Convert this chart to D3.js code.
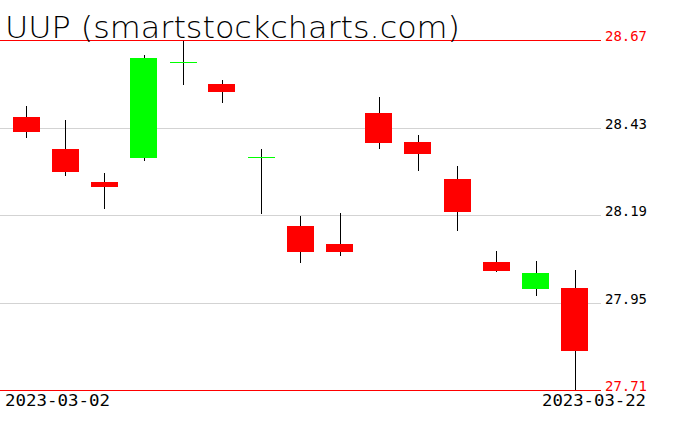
<!DOCTYPE html>
<html><head><meta charset="utf-8">
<script src="https://cdn.jsdelivr.net/npm/d3@7"></script>
<style>html,body{margin:0;padding:0;background:#fff;overflow:hidden}</style>
</head><body>
<script>
const dates = ["2023-03-02","2023-03-03","2023-03-06","2023-03-07","2023-03-08","2023-03-09","2023-03-10","2023-03-13","2023-03-14","2023-03-15","2023-03-16","2023-03-17","2023-03-20","2023-03-21","2023-03-22"];
const opens  = [28.459,28.371,28.280,28.347,28.609,28.549,28.349,28.160,28.110,28.470,28.390,28.289,28.061,27.988,27.990];
const highs  = [28.489,28.451,28.305,28.629,28.667,28.560,28.371,28.187,28.195,28.514,28.409,28.324,28.091,28.064,28.039];
const lows   = [28.400,28.298,28.206,28.339,28.547,28.498,28.194,28.059,28.078,28.372,28.311,28.147,28.035,27.969,27.710];
const closes = [28.418,28.308,28.267,28.621,28.609,28.528,28.349,28.089,28.089,28.388,28.358,28.199,28.037,28.031,27.818];
const gridTicks = [28.43,28.19,27.95];
const limitTicks = [28.67,27.71];
const title = "UUP (smartstockcharts.com)";

const W = 676, H = 431;
const svg = d3.select("body").append("svg").attr("width", W).attr("height", H);

const y = d3.scaleLinear().domain([27.71, 28.67]).range([390, 40]);
const x = d3.scalePoint().domain(dates).range([26, 574.8]);
const bodyW = 27;

// grid lines
svg.selectAll("line.grid").data(gridTicks).enter().append("line")
  .attr("x1", 0).attr("x2", 601)
  .attr("y1", d => Math.round(y(d)) + 0.5).attr("y2", d => Math.round(y(d)) + 0.5)
  .attr("stroke", "#d3d3d3").attr("stroke-width", 1);
svg.selectAll("line.lim").data(limitTicks).enter().append("line")
  .attr("x1", 0).attr("x2", 601)
  .attr("y1", d => Math.round(y(d)) + 0.5).attr("y2", d => Math.round(y(d)) + 0.5)
  .attr("stroke", "#ff0000").attr("stroke-width", 1);

// tick labels
const lblFont = "'DejaVu Sans Mono', monospace";
svg.selectAll("text.gl").data(gridTicks).enter().append("text")
  .attr("x", 605).attr("y", d => Math.round(y(d)) + 1)
  .attr("font-family", lblFont).attr("font-size", 14.5)
  .attr("textLength", 42).attr("lengthAdjust", "spacingAndGlyphs")
  .attr("fill", "#000").text(d => d.toFixed(2));
svg.selectAll("text.ll").data(limitTicks).enter().append("text")
  .attr("x", 605).attr("y", d => Math.round(y(d)) + 1)
  .attr("font-family", lblFont).attr("font-size", 14.5)
  .attr("textLength", 42).attr("lengthAdjust", "spacingAndGlyphs")
  .attr("fill", "#ff0000").text(d => d.toFixed(2));

// candles
const data = dates.map((d, i) => ({d, o: opens[i], h: highs[i], l: lows[i], c: closes[i]}));
const g = svg.append("g");
data.forEach(k => {
  const cx = Math.round(x(k.d)) + 0.5;
  g.append("line").attr("x1", cx).attr("x2", cx)
    .attr("y1", Math.round(y(k.h))).attr("y2", Math.round(y(k.l)))
    .attr("stroke", "#000").attr("stroke-width", 1);
  const up = k.c >= k.o;
  const col = up ? "#00ff00" : "#ff0000";
  const top = Math.round(y(Math.max(k.o, k.c)));
  const bot = Math.round(y(Math.min(k.o, k.c)));
  if (bot - top < 1) {
    g.append("line").attr("x1", cx - bodyW / 2).attr("x2", cx + bodyW / 2)
      .attr("y1", top + 0.5).attr("y2", top + 0.5)
      .attr("stroke", col).attr("stroke-width", 1);
  } else {
    g.append("rect").attr("x", Math.round(x(k.d) - bodyW / 2)).attr("y", top)
      .attr("width", bodyW).attr("height", bot - top).attr("fill", col);
  }
});

// date labels
svg.append("text").attr("x", 5).attr("y", 406)
  .attr("font-family", lblFont).attr("font-size", 16)
  .attr("textLength", 105).attr("lengthAdjust", "spacingAndGlyphs")
  .text(dates[0]);
svg.append("text").attr("x", 646).attr("y", 406).attr("text-anchor", "end")
  .attr("font-family", lblFont).attr("font-size", 16)
  .attr("textLength", 104).attr("lengthAdjust", "spacingAndGlyphs")
  .text(dates[dates.length - 1]);

// title
svg.append("text").attr("x", 5).attr("y", 38)
  .attr("font-family", "'DejaVu Sans', sans-serif").attr("font-weight", 200)
  .attr("font-size", 30)
  .attr("textLength", 455).attr("lengthAdjust", "spacingAndGlyphs")
  .text(title);
</script>
</body></html>
